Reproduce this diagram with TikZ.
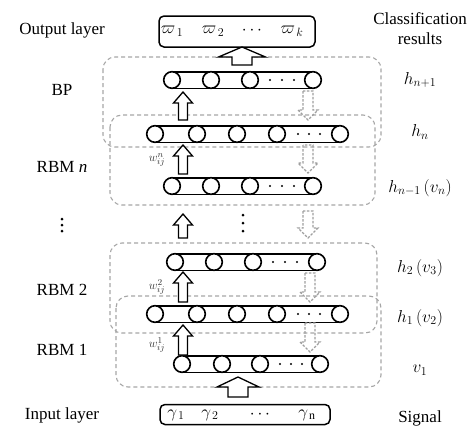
\documentclass[tikz,border=0pt]{standalone}
\usepackage{fontspec}
\setmainfont{Liberation Serif}
\begin{document}
\begin{tikzpicture}[x=1pt,y=-1pt,
  tubeline/.style={line width=1.6pt},
  groupbox/.style={draw=gray!70, line width=1.1pt, dash pattern=on 4pt off 3pt, rounded corners=12pt},
  iobox/.style={draw, line width=1.5pt, rounded corners=5pt},
  uparr/.style={draw, fill=white, line width=1.3pt, line join=miter},
  downarr/.style={draw=gray!75, line width=1.1pt, dash pattern=on 2.5pt off 1.5pt},
  lbl/.style={font=\fontsize{17}{20}\selectfont, inner sep=0pt},
  wlbl/.style={font=\fontsize{12.5}{14}\selectfont, inner sep=0pt, text=black!80}]

\def\rr{8.3}
% one layer of units: a tube with circles along it and a row of dots
\newcommand\tuberow[5]{%
  \draw[tubeline] (#2,#1-\rr) -- (#3,#1-\rr) (#2,#1+\rr) -- (#3,#1+\rr);
  \foreach \cx in {#4} \draw[tubeline, fill=white] (\cx,#1) circle (\rr pt);
  \foreach \dx in {#5} \fill (\dx,#1) circle (1.2pt);
}
% block arrow: x, start y, tip y, shaft half width, head half width, signed head length
\newcommand\blockarrow[7][uparr]{%
  \draw[#1] (#2-#5,#3) -- (#2-#5,#4+#7) -- (#2-#6,#4+#7) -- (#2,#4)
    -- (#2+#6,#4+#7) -- (#2+#5,#4+#7) -- (#2+#5,#3) -- cycle;
}
% vertical ellipsis drawn as three dots: x, top y, spacing
\newcommand\vdotsat[3]{%
  \foreach \k in {0,1,2} \fill (#1,#2+\k*#3) circle (1.5pt);
}

\fill[white] (0,0) rectangle (475,426);
\useasboundingbox (0,0) rectangle (475,426);

% dashed group frames
\draw[groupbox] (103,57) rectangle (381,147);
\draw[groupbox] (110,115) rectangle (375,205);
\draw[groupbox] (110,243) rectangle (377,333);
\draw[groupbox] (116,296) rectangle (381,387);

% output and input boxes
\node[iobox, minimum width=156pt, minimum height=31pt] (out) at (237,31.5) {};
\node[iobox, minimum width=170pt, minimum height=20pt] (inp) at (245,414.5) {};

\node[lbl] (w1) at (172,31) {$\varpi_{\,1}$};
\node[lbl] (w2) at (213,31) {$\varpi_{\,2}$};
\node[lbl] (wd) at (252,31) {$\cdots$};
\node[lbl] (wk) at (292,31) {$\varpi_{\,k}$};

\node[lbl] (g1) at (176,415) {$\gamma_{\,1}$};
\node[lbl] (g2) at (210,415) {$\gamma_{\,2}$};
\node[lbl] (gd) at (260,415) {$\cdots$};
\node[lbl] (gn) at (307,415) {$\gamma_{\,\mathrm{n}}$};

% layers of units
\tuberow{80}{172}{313}{172,211,250,313}{270,282,294}
\tuberow{134}{155}{340}{155,197,237,277,340}{298,309,320}
\tuberow{186}{172}{313}{172,211,250,313}{270,282,294}
\tuberow{262}{175}{317}{175,214,253,317}{273,285,297}
\tuberow{314}{155}{340}{155,197,237,277,340}{298,309,320}
\tuberow{364}{182}{320}{182,222,260,320}{280,291,302}

% upward (forward) arrows
\blockarrow{242}{65}{47}{10}{23.5}{10}
\blockarrow{183}{120}{92}{4.5}{9.5}{11}
\blockarrow{183}{174}{145}{4.5}{9.5}{11}
\blockarrow{183}{238}{214}{4.5}{9.5}{11}
\blockarrow{183}{302}{272}{4.5}{9.5}{11}
\blockarrow{183}{355}{325}{4.5}{9.5}{11}
\blockarrow{238}{397}{377}{10}{21}{10}

% downward (fine-tuning) arrows
\blockarrow[downarr]{308}{91}{120}{5}{10}{-10}
\blockarrow[downarr]{308}{145}{173}{5}{10}{-10}
\blockarrow[downarr]{308}{211}{238}{5}{10}{-10}
\blockarrow[downarr]{310}{273}{302}{5}{10}{-10}
\blockarrow[downarr]{310}{323}{352}{5}{10}{-10}

% vertical ellipses
\vdotsat{243}{215}{8}
\vdotsat{62}{219}{6}

% weight labels
\node[wlbl] (wn) at (157,160) {$w_{ij}^{n}$};
\node[wlbl] (w2l) at (157,287) {$w_{ij}^{2}$};
\node[wlbl] (w1l) at (157,345) {$w_{ij}^{1}$};

% left column
\node[lbl] (lout) at (62,30) {Output layer};
\node[lbl] (lbp) at (62,90) {BP};
\node[lbl] (lrn) at (62,167) {RBM \textit{n}};
\node[lbl] (lr2) at (62,290) {RBM 2};
\node[lbl] (lr1) at (62,350) {RBM 1};
\node[lbl] (lin) at (62,415) {Input layer};

% right column
\node[lbl, align=center] (rcls) at (420,29) {Classification\\results};
\node[lbl] (rh1) at (420,80) {$h_{n+1}$};
\node[lbl] (rh2) at (420,132) {$h_{n}$};
\node[lbl] (rh3) at (420,188) {$h_{n-1}\,(v_{n})$};
\node[lbl] (rh4) at (420,268) {$h_{2}\,(v_{3})$};
\node[lbl] (rh5) at (420,318) {$h_{1}\,(v_{2})$};
\node[lbl] (rv1) at (420,370) {$v_{1}$};
\node[lbl] (rsig) at (420,418) {Signal};
\end{tikzpicture}
\end{document}
